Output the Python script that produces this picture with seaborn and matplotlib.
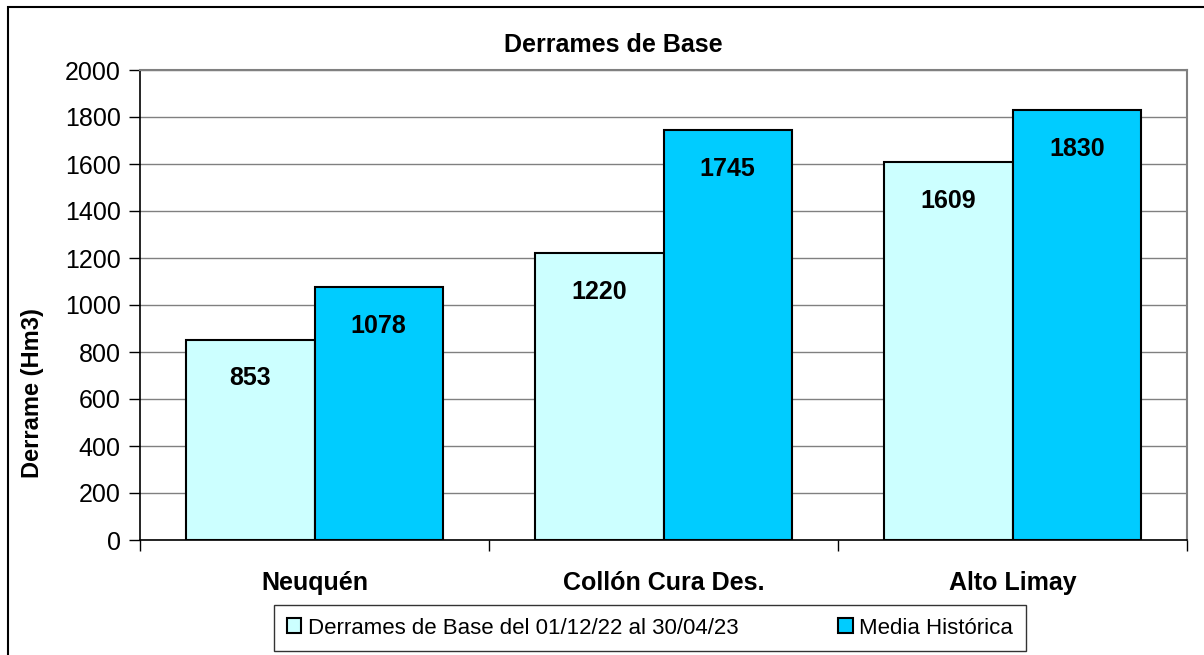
import numpy as np
import pandas as pd
import matplotlib
matplotlib.use("Agg")
import matplotlib.pyplot as plt
import seaborn as sns
from matplotlib.patches import Rectangle

# data
categories = ["Neuquén", "Collón Cura Des.", "Alto Limay"]
series_names = ["Derrames de Base del 01/12/22 al 30/04/23", "Media Histórica"]
derrame_base = [853, 1220, 1609]
media_historica = [1078, 1745, 1830]
y_ticks = [0, 200, 400, 600, 800, 1000, 1200, 1400, 1600, 1800, 2000]

colors = ["#CCFFFF", "#00CCFF"]

df = pd.DataFrame({
    "Cuenca": categories * 2,
    "Serie": [series_names[0]] * 3 + [series_names[1]] * 3,
    "Derrame": derrame_base + media_historica,
})

sns.set_theme(style="white")
plt.rcParams["font.family"] = ["Liberation Sans", "DejaVu Sans"]
plt.rcParams.update({"text.color": "black", "axes.labelcolor": "black",
                     "xtick.color": "black", "ytick.color": "black"})

fig = plt.figure(figsize=(12.04, 6.55), dpi=100)
ax = fig.add_axes([140 / 1204, 1 - 540 / 655, 1047 / 1204, 470 / 655])

sns.barplot(data=df, x="Cuenca", y="Derrame", hue="Serie", palette=colors,
            width=0.736, edgecolor="black", linewidth=1.5, saturation=1,
            ax=ax, legend=True)

# value labels inside bars
for container in ax.containers:
    for bar in container:
        h = bar.get_height()
        ax.annotate(f"{h:.0f}", (bar.get_x() + bar.get_width() / 2, h),
                    xytext=(0, -28), textcoords="offset points",
                    ha="center", va="center", fontsize=18, fontweight="bold")

ax.set_ylim(0, 2000)
ax.set_xlim(-0.5, 2.5)
ax.set_yticks(y_ticks)
ax.set_yticklabels([str(t) for t in y_ticks], fontsize=18)
ax.yaxis.grid(True, color="#808080", linewidth=1.0)
ax.set_axisbelow(True)

# category labels + boundary ticks
ax.set_xticks([0, 1, 2])
ax.set_xticklabels(categories, fontsize=18, fontweight="bold")
ax.tick_params(axis="x", length=0, pad=22)
ax.set_xticks([-0.5, 0.5, 1.5, 2.5], minor=True)
ax.tick_params(axis="x", which="minor", length=8, width=1, color="black",
               direction="out", bottom=True)
ax.tick_params(axis="y", length=8, width=1, color="black", direction="out",
               left=True, pad=6)

ax.set_xlabel("")
ax.set_ylabel("Derrame (Hm3)", fontsize=17, fontweight="bold")
ax.yaxis.set_label_coords(-0.092, 0.313)
fig.text(613 / 1204, 1 - 45 / 655, "Derrames de Base", ha="center", va="center",
         fontsize=18, fontweight="bold")

for side in ["left", "bottom"]:
    ax.spines[side].set_color("black")
    ax.spines[side].set_linewidth(1.2)
for side in ["top", "right"]:
    ax.spines[side].set_visible(True)
    ax.spines[side].set_color("#808080")
    ax.spines[side].set_linewidth(1.5)

handles, labels = ax.get_legend_handles_labels()
ax.legend_.remove()
leg = fig.legend(handles, labels, loc="center", bbox_to_anchor=(650 / 1204, 1 - 628 / 655),
                 ncol=2, fontsize=16, frameon=True, fancybox=False, edgecolor="black",
                 handlelength=0.65, handleheight=0.65, columnspacing=4.5,
                 borderpad=0.55, handletextpad=0.3, borderaxespad=0)
leg.get_frame().set_linewidth(1.0)
for h in leg.legend_handles:
    h.set_edgecolor("black")
    h.set_linewidth(1.5)

# outer chart border (left/top visible)
fig.patches.append(Rectangle((8 / 1204, -0.1), 1.2, 1 - 7 / 655 + 0.1,
                             transform=fig.transFigure, fill=False,
                             edgecolor="black", linewidth=1.5))

fig.savefig("out.png", dpi=100)
